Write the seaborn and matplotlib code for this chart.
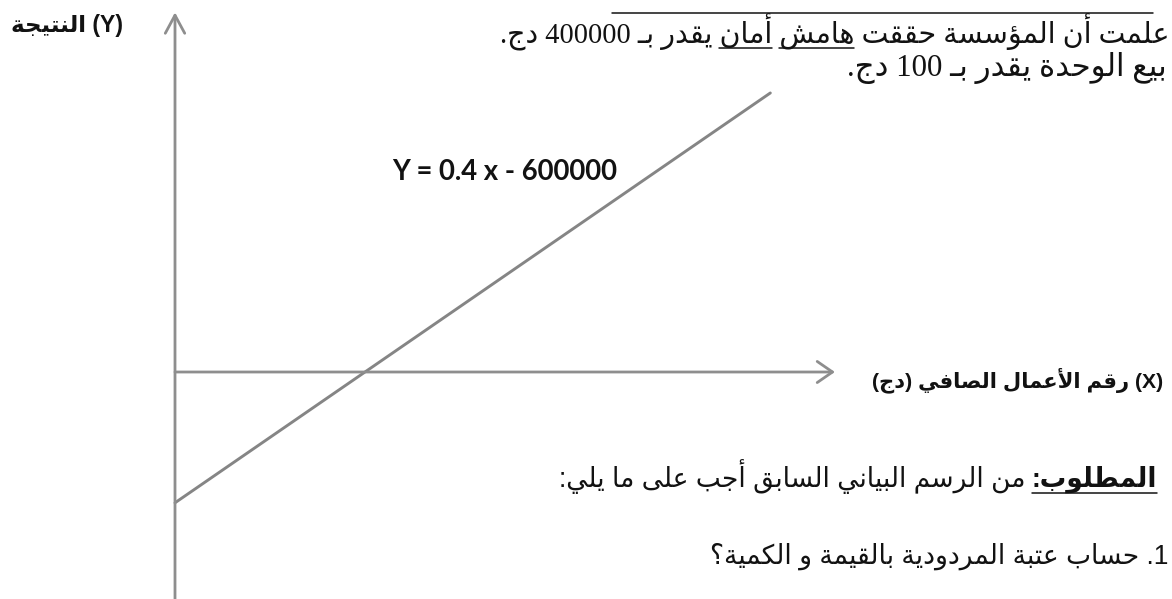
import matplotlib
matplotlib.use("Agg")
import matplotlib.pyplot as plt
from matplotlib.lines import Line2D
import seaborn as sns

# ---------------- data ----------------
revenue = [0, 4700000]            # X : net revenue (DA)
result = [-600000, 1280000]       # Y : result  (Y = 0.4 x - 600000)
axis_x_end = 5210000
axis_y_top = 1650000
axis_y_bottom = -1100000

y_label = "(Y) النتيجة"
x_label = "(X) رقم الأعمال الصافي (دج)"
eq_label = "Y = 0.4 x - 600000"
line2 = "علمت أن المؤسسة حققت هامش أمان يقدر بـ 400000 دج."
line3 = "بيع الوحدة يقدر بـ 100 دج."
req_head = "المطلوب:"
req_rest = "من الرسم البياني السابق أجب على ما يلي:"
q1 = "1. حساب عتبة المردودية بالقيمة و الكمية؟"

# ---------------- minimal Arabic shaping + bidi ----------------
_letters = [('\u0621', 1), ('\u0622', 2), ('\u0623', 2), ('\u0624', 2), ('\u0625', 2),
            ('\u0626', 4), ('\u0627', 2), ('\u0628', 4), ('\u0629', 2), ('\u062A', 4),
            ('\u062B', 4), ('\u062C', 4), ('\u062D', 4), ('\u062E', 4), ('\u062F', 2),
            ('\u0630', 2), ('\u0631', 2), ('\u0632', 2), ('\u0633', 4), ('\u0634', 4),
            ('\u0635', 4), ('\u0636', 4), ('\u0637', 4), ('\u0638', 4), ('\u0639', 4),
            ('\u063A', 4), ('\u0641', 4), ('\u0642', 4), ('\u0643', 4), ('\u0644', 4),
            ('\u0645', 4), ('\u0646', 4), ('\u0647', 4), ('\u0648', 2), ('\u0649', 2),
            ('\u064A', 4)]
FORMS = {}
_b = 0xFE80
for _c, _n in _letters:
    if _n == 1:
        FORMS[_c] = (_b, None, None, None)
    elif _n == 2:
        FORMS[_c] = (_b, _b + 1, None, None)
    else:
        FORMS[_c] = (_b, _b + 1, _b + 2, _b + 3)
    _b += _n
LAMALEF = {'\u0622': 0xFEF5, '\u0623': 0xFEF7, '\u0625': 0xFEF9, '\u0627': 0xFEFB}
TATWEEL = '\u0640'


def _join_next(c):
    return c == TATWEEL or (c in FORMS and FORMS[c][2] is not None)


def _join_prev(c):
    return c == TATWEEL or (c in FORMS and FORMS[c][1] is not None)


def shape(s):
    out, i, n = [], 0, len(s)
    while i < n:
        c = s[i]
        if c not in FORMS:
            out.append(c)
            i += 1
            continue
        prev = s[i - 1] if i > 0 else ''
        jp = _join_next(prev) and _join_prev(c)
        if c == '\u0644' and i + 1 < n and s[i + 1] in LAMALEF:
            out.append(chr(LAMALEF[s[i + 1]] + (1 if jp else 0)))
            i += 2
            continue
        nxt = s[i + 1] if i + 1 < n else ''
        jn = _join_next(c) and _join_prev(nxt)
        iso, fin, ini, med = FORMS[c]
        code = med if (jp and jn) else fin if jp else ini if jn else iso
        out.append(chr(code))
        i += 1
    return ''.join(out)


MIRROR = {'(': ')', ')': '('}


def _ltr(c):
    return c.isascii() and c.isalnum()


def visual(s):
    s = shape(s)
    runs, i, n = [], 0, len(s)
    while i < n:
        if _ltr(s[i]):
            j = k = i
            while k < n:
                if _ltr(s[k]):
                    j = k
                    k += 1
                elif s[k] in ' .,=-+':
                    k += 1
                else:
                    break
            runs.append(('L', s[i:j + 1]))
            i = j + 1
        else:
            j = i
            while j < n and not _ltr(s[j]):
                j += 1
            runs.append(('R', s[i:j]))
            i = j
    out = []
    for kind, r in reversed(runs):
        out.append(r if kind == 'L' else ''.join(MIRROR.get(c, c) for c in reversed(r)))
    return ''.join(out)


# ---------------- figure ----------------
sns.set_theme(style="white")
plt.rcParams['font.family'] = ['Liberation Serif', 'DejaVu Sans']

W, H = 1172, 599
fig = plt.figure(figsize=(W / 100, H / 100), dpi=100)
fig.patch.set_facecolor('white')
ax = fig.add_axes([0, 0, 1, 1])
ax.axis('off')

# pixel calibration of the scanned drawing
x0_px, x_scale = 175, 190 / 1.5e6
y0_px, y_scale = 372, 218 / 1e6
ax.set_xlim(-x0_px / x_scale, (W - x0_px) / x_scale)
ax.set_ylim(-(H - y0_px) / y_scale, y0_px / y_scale)

axis_color = '#8e8e8e'
line_color = '#858585'

# axes with arrows
ax.annotate('', xy=(axis_x_end, 0), xytext=(0, 0),
            arrowprops=dict(arrowstyle='->,head_length=0.55,head_width=0.38',
                            lw=2.0, color=axis_color, mutation_scale=20,
                            shrinkA=0, shrinkB=0))
ax.annotate('', xy=(0, axis_y_top), xytext=(0, axis_y_bottom),
            arrowprops=dict(arrowstyle='->,head_length=0.65,head_width=0.35',
                            lw=2.0, color=axis_color, mutation_scale=20,
                            shrinkA=0, shrinkB=0))

# the result line
sns.lineplot(x=revenue, y=result, ax=ax, color=line_color, lw=2.1)

renderer = fig.canvas.get_renderer()
TXT = '#121212'


def fpos(x, y):
    return x / W, 1 - y / H


def put(s, x, y, ha, family, weight='normal', size=16, fit=None):
    t = fig.text(*fpos(x, y), s, ha=ha, va='baseline', family=family,
                 weight=weight, fontsize=size, color=TXT)
    if fit:
        w = t.get_window_extent(renderer).width
        t.set_fontsize(size * fit / w)
    return t


def width_of(s, t):
    tmp = fig.text(0, 0, s, fontproperties=t.get_fontproperties())
    w = tmp.get_window_extent(renderer).width
    tmp.remove()
    return w


def underline(x1, x2, y, lw=1.1):
    fig.add_artist(Line2D([x1 / W, x2 / W], [1 - y / H, 1 - y / H],
                          transform=fig.transFigure, color=TXT, lw=lw))


def underline_word(t, vis, word, y):
    wv = visual(word)
    idx = vis.find(wv)
    if idx < 0:
        return
    bb = t.get_window_extent(renderer)
    right = bb.x0 + width_of(vis[:idx + len(wv)], t)
    left = right - width_of(wv, t)
    underline(left, right, y)


serif = ['Liberation Serif', 'DejaVu Sans']
sans = ['Liberation Sans', 'DejaVu Sans']

# axis titles
put(visual(y_label), 123, 32, 'right', sans, 'bold', 14, fit=113)
put(visual(x_label), 1163, 387, 'right', sans, 'bold', 15.2)
put(eq_label, 392, 180, 'left', ['Lato', 'DejaVu Sans'], 'bold', 15, fit=226)

# top text (partly outside the scanned crop)
underline(612, 1153, 13)
v2 = visual(line2)
t2 = put(v2, 1169, 43, 'right', serif, 'normal', 18, fit=672)
underline_word(t2, v2, "هامش", 48)
underline_word(t2, v2, "أمان", 48)
put(visual(line3), 1167, 76, 'right', serif, 'normal', t2.get_fontsize() * 1.08)

# requirement lines
th = put(visual(req_head), 1157, 487, 'right', sans, 'bold', 16)
tr = put(visual(req_rest), 1100, 487, 'right', sans, 'normal', 16)
gap = 6
for _ in range(3):
    wh = th.get_window_extent(renderer).width
    wr = tr.get_window_extent(renderer).width
    total = wh + gap + wr
    k = (1157 - 558) / total
    th.set_fontsize(th.get_fontsize() * k)
    tr.set_fontsize(tr.get_fontsize() * k)
    wh = th.get_window_extent(renderer).width
    tr.set_position(fpos(1157 - wh - gap, 487))
bb = th.get_window_extent(renderer)
underline(bb.x0, bb.x1, 493)

put(visual(q1), 1168, 564, 'right', sans, 'normal', tr.get_fontsize())

fig.savefig('out.png', dpi=100, facecolor='white')
